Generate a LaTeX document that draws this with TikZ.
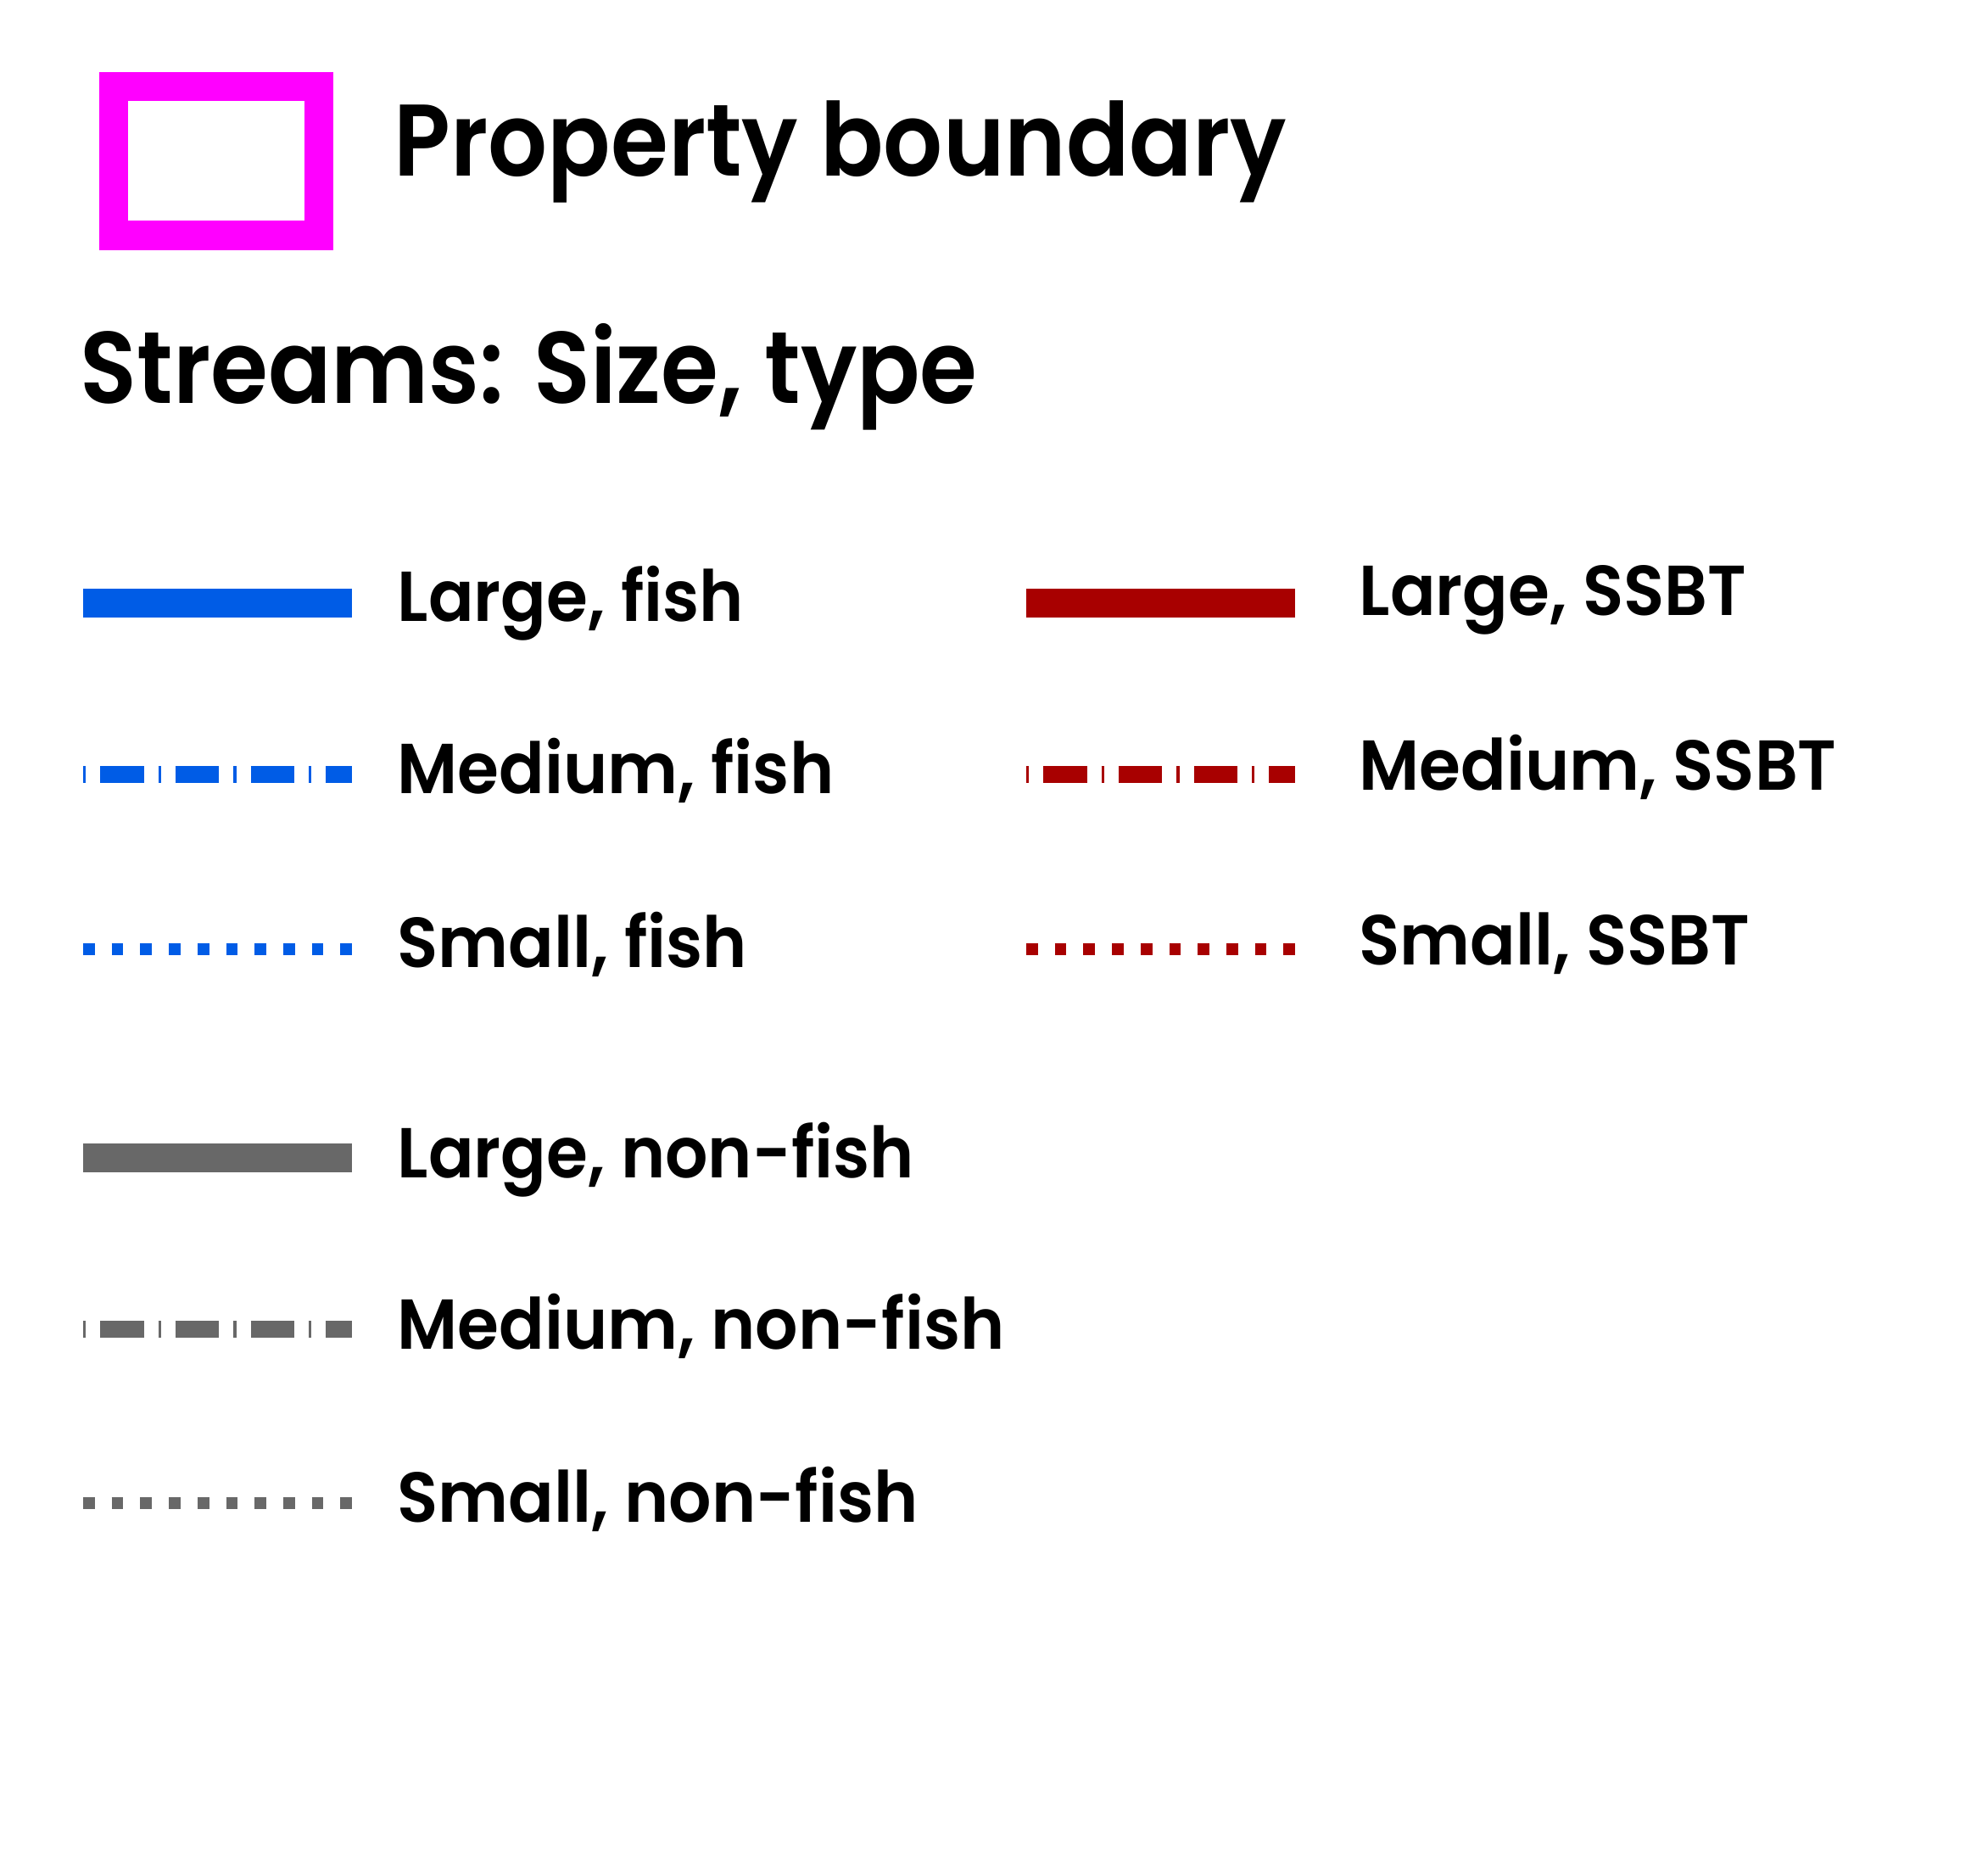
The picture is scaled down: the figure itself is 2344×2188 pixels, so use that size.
\documentclass[tikz,border=0pt]{standalone}
\usepackage{fontspec}
\setmainfont{Poppins}[UprightFont={* SemiBold},BoldFont={* Bold}]
\newfontfamily\lblfont{Poppins SemiBold}[FakeStretch=0.95]
\newfontfamily\hdrfont{Poppins SemiBold}[FakeStretch=0.915]
\definecolor{magentab}{RGB}{255,0,255}
\definecolor{fishblue}{RGB}{0,92,230}
\definecolor{ssbtred}{RGB}{168,0,0}
\definecolor{nonfish}{RGB}{104,104,104}
\begin{document}
\begin{tikzpicture}[x=0.3pt,y=-0.3pt,
  lbl/.style={anchor=base west,inner sep=0pt,font=\lblfont\fontsize{25pt}{30pt}\selectfont},
  hdr/.style={anchor=base west,inner sep=0pt,font=\hdrfont\fontsize{36pt}{42pt}\selectfont},
  large/.style={line width=10.2pt,line cap=butt},
  medium/.style={line width=6pt,line cap=butt,dash pattern=on 0.99pt off 5.1pt on 15.39pt off 5.1pt},
  small/.style={line width=4.11pt,line cap=butt,dash pattern=on 4.11pt off 6pt},
  boundary/.style={draw=magentab,line width=10.35pt,line join=miter}]
\useasboundingbox (0,0) rectangle (2344,2188);
% property boundary
\draw[boundary] (134,102) rectangle (376,277.5);
\node[hdr] (title) at (464,208) {Property boundary};
\node[hdr] (streams) at (94,476) {Streams: Size, type};
% line end coordinates
\foreach \n/\y in {lf/711,mf/913,sf/1119,ln/1365,mn/1567,sn/1772}{
  \coordinate (\n a) at (98,\y);
  \coordinate (\n b) at (414.7,\y);
}
\foreach \n/\y in {ls/711,ms/913,ss/1119}{
  \coordinate (\n a) at (1210,\y);
  \coordinate (\n b) at (1526.5,\y);
}
\draw[large,fishblue] (lfa) -- (lfb);
\draw[medium,fishblue] (mfa) -- (mfb);
\draw[small,fishblue] (sfa) -- (sfb);
\draw[large,nonfish] (lna) -- (lnb);
\draw[medium,nonfish] (mna) -- (mnb);
\draw[small,nonfish] (sna) -- (snb);
\draw[large,ssbtred] (lsa) -- (lsb);
\draw[medium,ssbtred] (msa) -- (msb);
\draw[small,ssbtred] (ssa) -- (ssb);
% labels
\node[lbl] (tlf) at (468,733) {Large, fish};
\node[lbl] (tmf) at (468,935) {Medium, fish};
\node[lbl] (tsf) at (468,1140) {Small, fish};
\node[lbl] (tln) at (468,1388) {Large, non-fish};
\node[lbl] (tmn) at (468,1590) {Medium, non-fish};
\node[lbl] (tsn) at (468,1794) {Small, non-fish};
\node[lbl] (tls) at (1602,726) {Large, SSBT};
\node[lbl] (tms) at (1602,932) {Medium, SSBT};
\node[lbl] (tss) at (1602,1138) {Small, SSBT};
\end{tikzpicture}
\end{document}
